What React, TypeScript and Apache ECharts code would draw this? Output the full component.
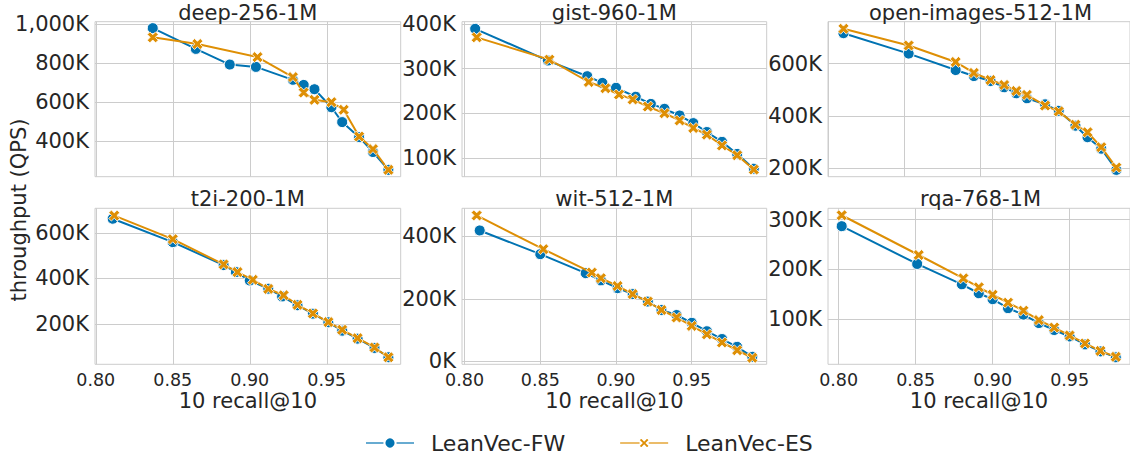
import React, { useEffect, useRef } from "react";
import * as echarts from "echarts";

// ---------- data (QPS in thousands) ----------
const deepFwRecall = [0.837, 0.865, 0.887, 0.904, 0.928, 0.935, 0.942, 0.953, 0.960, 0.971, 0.980, 0.990];
const deepFwQps = [979, 873, 793, 781, 715, 689, 667, 575, 499, 422, 346, 255];
const deepEsRecall = [0.837, 0.866, 0.905, 0.928, 0.935, 0.942, 0.953, 0.961, 0.971, 0.980, 0.990];
const deepEsQps = [932, 898, 831, 729, 650, 613, 601, 562, 425, 361, 255];

const gistFwRecall = [0.807, 0.855, 0.881, 0.891, 0.900, 0.913, 0.923, 0.932, 0.942, 0.951, 0.960, 0.970, 0.980, 0.991];
const gistFwQps = [389, 318, 283, 268, 257, 237, 221, 210, 195, 178, 158, 136, 109, 76];
const gistEsRecall = [0.808, 0.856, 0.882, 0.893, 0.902, 0.911, 0.921, 0.932, 0.942, 0.951, 0.960, 0.970, 0.980, 0.991];
const gistEsQps = [370, 320, 270, 256, 242, 231, 215, 200, 184, 167, 152, 128, 106, 74];

const openFwRecall = [0.810, 0.853, 0.884, 0.896, 0.907, 0.916, 0.924, 0.931, 0.943, 0.952, 0.963, 0.971, 0.980, 0.990];
const openFwQps = [716, 638, 575, 552, 533, 509, 486, 467, 444, 419, 362, 318, 274, 193];
const openEsRecall = [0.810, 0.853, 0.884, 0.896, 0.907, 0.916, 0.924, 0.931, 0.943, 0.952, 0.963, 0.971, 0.980, 0.990];
const openEsQps = [733, 669, 606, 564, 537, 518, 495, 480, 439, 417, 366, 337, 280, 202];

const t2iFwRecall = [0.811, 0.850, 0.883, 0.891, 0.900, 0.912, 0.921, 0.931, 0.941, 0.951, 0.960, 0.970, 0.981, 0.990];
const t2iFwQps = [663, 560, 459, 428, 391, 355, 321, 282, 245, 207, 170, 135, 94, 53];
const t2iEsRecall = [0.812, 0.850, 0.883, 0.892, 0.902, 0.912, 0.922, 0.931, 0.941, 0.951, 0.960, 0.970, 0.981, 0.990];
const t2iEsQps = [677, 573, 462, 428, 394, 354, 326, 284, 246, 208, 174, 137, 96, 53];

const witFwRecall = [0.810, 0.850, 0.880, 0.890, 0.901, 0.911, 0.921, 0.930, 0.940, 0.950, 0.960, 0.970, 0.980, 0.990];
const witFwQps = [419, 343, 282, 259, 234, 215, 191, 164, 148, 123, 96, 71, 46, 14];
const witEsRecall = [0.808, 0.852, 0.884, 0.890, 0.901, 0.911, 0.921, 0.930, 0.940, 0.950, 0.960, 0.970, 0.980, 0.990];
const witEsQps = [467, 359, 284, 266, 241, 215, 191, 164, 140, 113, 86, 60, 35, 11];

const rqaFwRecall = [0.802, 0.851, 0.880, 0.891, 0.900, 0.910, 0.920, 0.930, 0.940, 0.950, 0.960, 0.970, 0.980];
const rqaFwQps = [287, 211, 170, 152, 140, 122, 109, 92, 78, 65, 49, 35, 23];
const rqaEsRecall = [0.802, 0.852, 0.881, 0.891, 0.900, 0.910, 0.920, 0.930, 0.940, 0.950, 0.960, 0.970, 0.980];
const rqaEsQps = [309, 229, 182, 164, 149, 133, 117, 98, 83, 67, 51, 36, 24];

const xTicks = [0.8, 0.85, 0.9, 0.95];
const deepYTicks = [400, 600, 800, 1000];
const gistYTicks = [100, 200, 300, 400];
const openYTicks = [200, 400, 600];
const t2iYTicks = [200, 400, 600];
const witYTicks = [0, 200, 400];
const rqaYTicks = [100, 200, 300];

const seriesNames = ["LeanVec-FW", "LeanVec-ES"];
const titles = ["deep-256-1M", "gist-960-1M", "open-images-512-1M", "t2i-200-1M", "wit-512-1M", "rqa-768-1M"];
const xLabel = "10 recall@10";
const yLabel = "throughput (QPS)";

// ---------- styling / layout ----------
const FONT = "DejaVu Sans";
const TXT = "#262626";
const BLUE = "#0173b2";
const ORANGE = "#de8f05";
const GRIDC = "#cccccc";
const XSYM = "path://M0,2.4L2.4,0L5,2.6L7.6,0L10,2.4L7.4,5L10,7.6L7.6,10L5,7.4L2.4,10L0,7.6L2.6,5Z";

const panels = [
  { fwX: deepFwRecall, fwY: deepFwQps, esX: deepEsRecall, esY: deepEsQps, yTicks: deepYTicks,
    xr: [0.7995, 0.998], yr: [220, 1012], box: [95, 21.7, 305.7, 155], bottom: false },
  { fwX: gistFwRecall, fwY: gistFwQps, esX: gistEsRecall, esY: gistEsQps, yTicks: gistYTicks,
    xr: [0.7983, 0.9995], yr: [58, 405], box: [462, 21.7, 304.7, 155], bottom: false },
  { fwX: openFwRecall, fwY: openFwQps, esX: openEsRecall, esY: openEsQps, yTicks: openYTicks,
    xr: [0.7998, 0.999], yr: [167, 760], box: [828, 21.7, 305, 155], bottom: false },
  { fwX: t2iFwRecall, fwY: t2iFwQps, esX: t2iEsRecall, esY: t2iEsQps, yTicks: t2iYTicks,
    xr: [0.7995, 0.998], yr: [22, 709], box: [95, 208.3, 305.7, 156], bottom: true },
  { fwX: witFwRecall, fwY: witFwQps, esX: witEsRecall, esY: witEsQps, yTicks: witYTicks,
    xr: [0.7983, 0.9995], yr: [-10, 490], box: [462, 208.3, 304.7, 156], bottom: true },
  { fwX: rqaFwRecall, fwY: rqaFwQps, esX: rqaEsRecall, esY: rqaEsQps, yTicks: rqaYTicks,
    xr: [0.7931, 0.9892], yr: [9, 323], box: [828, 208.3, 305, 156], bottom: true },
];

const zip = (a: number[], b: number[]) => a.map((v, i) => [v, b[i]]);
const fmtK = (v: number) => Math.round(v).toLocaleString("en-US") + "K";

function buildOption() {
  const grid: any[] = [];
  const xAxis: any[] = [];
  const yAxis: any[] = [];
  const series: any[] = [];
  const graphic: any[] = [];

  panels.forEach((p, i) => {
    const [l, t, w, h] = p.box;
    grid.push({ left: l, top: t, width: w, height: h, show: true, borderColor: GRIDC, borderWidth: 1, backgroundColor: "transparent" });
    xAxis.push({
      type: "value", gridIndex: i, min: p.xr[0], max: p.xr[1],
      axisLine: { show: false }, axisTick: { show: false, customValues: xTicks },
      splitLine: { show: true, lineStyle: { color: GRIDC, width: 1 } },
      axisLabel: { show: p.bottom, customValues: xTicks, formatter: (v: number) => v.toFixed(2),
        fontFamily: FONT, fontSize: 17.5, color: TXT, margin: 7 },
      name: p.bottom ? xLabel : "", nameLocation: "middle", nameGap: 26,
      nameTextStyle: { fontFamily: FONT, fontSize: 21, color: TXT },
    });
    yAxis.push({
      type: "value", gridIndex: i, min: p.yr[0], max: p.yr[1],
      axisLine: { show: false }, axisTick: { show: false, customValues: p.yTicks },
      splitLine: { show: true, lineStyle: { color: GRIDC, width: 1 } },
      axisLabel: { customValues: p.yTicks, formatter: fmtK, fontFamily: FONT, fontSize: 21, color: TXT, margin: 6 },
    });
    series.push({
      type: "line", name: seriesNames[0], xAxisIndex: i, yAxisIndex: i,
      data: zip(p.fwX, p.fwY), symbol: "circle", symbolSize: 11, z: 2,
      lineStyle: { color: BLUE, width: 2 },
      itemStyle: { color: BLUE, borderColor: "#ffffff", borderWidth: 1 },
      emphasis: { disabled: true },
    });
    series.push({
      type: "line", name: seriesNames[1], xAxisIndex: i, yAxisIndex: i,
      data: zip(p.esX, p.esY), symbol: XSYM, symbolSize: 11, z: 3,
      lineStyle: { color: ORANGE, width: 2 },
      itemStyle: { color: ORANGE, borderColor: "#ffffff", borderWidth: 0.8 },
      emphasis: { disabled: true },
    });
    graphic.push({
      type: "text", x: l + w / 2, y: t - 9,
      style: { text: titles[i], fontFamily: FONT, fontSize: 21, fill: TXT, align: "center", verticalAlign: "middle",
        textAlign: "center", textVerticalAlign: "middle" },
    });
  });

  graphic.push({
    type: "text", x: 19, y: 210, rotation: Math.PI / 2,
    style: { text: yLabel, fontFamily: FONT, fontSize: 21, fill: TXT, align: "center", verticalAlign: "middle",
      textAlign: "center", textVerticalAlign: "middle" },
  });

  return {
    animation: false,
    backgroundColor: "#ffffff",
    textStyle: { fontFamily: FONT },
    grid, xAxis, yAxis, series, graphic,
    legend: {
      data: seriesNames, left: 360, top: 427, itemWidth: 48, itemHeight: 14, itemGap: 54,
      textStyle: { fontFamily: FONT, fontSize: 22, color: TXT, padding: [0, 0, 0, 12] },
      lineStyle: { opacity: 0.6 },
      selectedMode: false,
    },
  };
}

export default function App() {
  const ref = useRef<HTMLDivElement>(null);
  useEffect(() => {
    if (!ref.current) return;
    const chart = echarts.init(ref.current, undefined, { renderer: "svg" });
    chart.setOption(buildOption() as any);
    return () => chart.dispose();
  }, []);
  return <div ref={ref} style={{ position: "absolute", left: 0, top: 0, width: 1130, height: 457 }} />;
}
